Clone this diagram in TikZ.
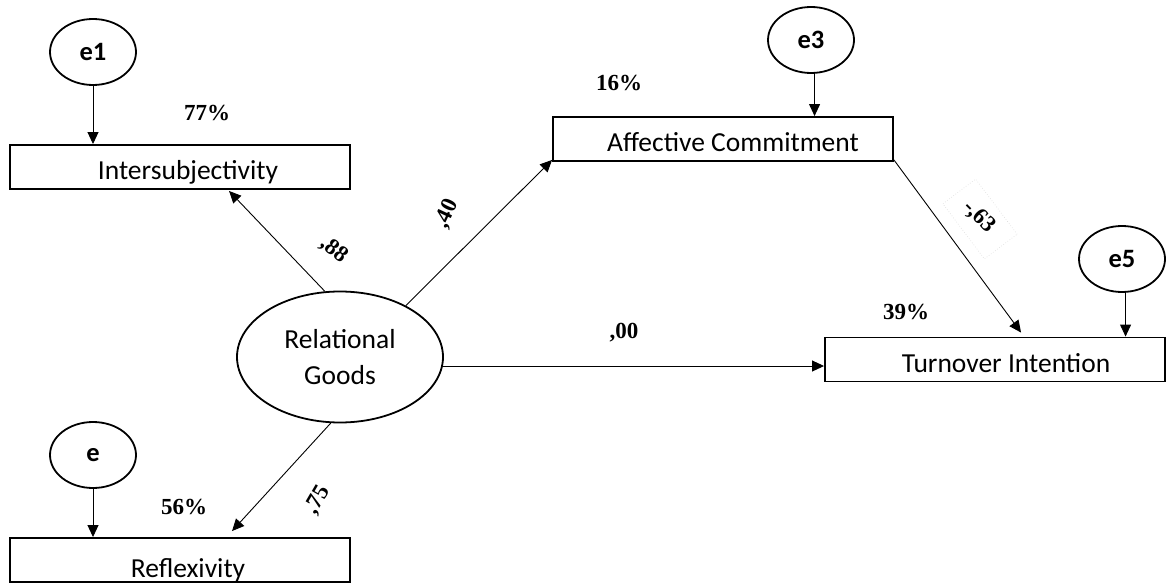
\documentclass[tikz,border=0pt]{standalone}
\usepackage{fontspec}
\usetikzlibrary{shapes.geometric,arrows.meta}
\newfontfamily\carlito{Carlito}
\newfontfamily\tnr{Liberation Serif}
\newcommand\boxfont{\carlito\fontsize{27.5}{36}\selectfont}
\newcommand\errfont{\carlito\bfseries\fontsize{26.5}{28}\selectfont}
\newcommand\numfont{\tnr\bfseries\fontsize{23}{25}\selectfont}
\tikzset{
  lat/.style={ellipse, draw, line width=1.8pt, minimum width=86pt, minimum height=66pt, inner sep=0pt, font=\errfont},
  obs/.style={draw, line width=1.9pt, minimum width=340pt, minimum height=44pt, inner sep=0pt},
  boxtext/.style={anchor=base, font=\boxfont, inner sep=0pt},
  pct/.style={font=\numfont, inner sep=0pt},
  coef/.style={font=\numfont, inner sep=0pt, anchor=center},
  faintbox/.style={draw=gray!30, dotted, line width=0.6pt, minimum width=69pt, minimum height=41pt},
  arr/.style={-{Triangle[length=12pt,width=11pt]}, line width=0.9pt},
}
\begin{document}
\begin{tikzpicture}[x=1pt, y=-1pt]
\useasboundingbox (0,0) rectangle (1166,585);
\clip (0,0) rectangle (1166,585);

% observed boxes
\node[obs] (inter) at (180,167) {};
\node[boxtext] (intert) at (188,180) {Intersubjectivity};
\node[obs] (aff) at (723,139) {};
\node[boxtext] (afft) at (733,152) {Affective Commitment};
\node[obs] (turn) at (995,359.5) {};
\node[boxtext] (turnt) at (1006,372) {Turnover Intention};
\node[obs] (refl) at (180,560) {};
\node[boxtext] (reflt) at (188,577) {Reflexivity};

% latent
\node[ellipse, draw, line width=1.8pt, minimum width=206pt, minimum height=131pt, inner sep=0pt, align=center, font=\boxfont] (rg) at (340,357) {Relational\\Goods};

% errors
\node[lat] (e1) at (93,52) {e1};
\node[lat] (e3) at (811,40) {e3};
\node[lat] (e5) at (1122,259) {e5};
\node[lat] (e) at (93,455) {e};

\draw[arr] (e1.south) -- (e1.south |- inter.north);
\draw[arr] (e3.-84) -- (e3.-84 |- aff.north);
\draw[arr] (e5.-84) -- (e5.-84 |- turn.north);
\draw[arr] (e.south) -- (e.south |- refl.north);

% structural paths
\draw[arr] (rg.103) -- ([xshift=220pt, yshift=-1pt]inter.south west);
\draw[arr] (rg.38) -- ([yshift=2pt]aff.south west);
\draw[arr] (rg.262) -- ([xshift=223pt, yshift=6pt]refl.north west);
\draw[arr] (rg.-5) -- (rg.-5 -| turn.west);
\draw[arr] ([yshift=2pt]aff.south east) -- ([xshift=197pt, yshift=4pt]turn.north west);

% percentages
\node[pct] (p77) at (207,113) {77\%};
\node[pct] (p16) at (619,83) {16\%};
\node[pct] (p39) at (906,312) {39\%};
\node[pct] (p56) at (184,507) {56\%};

% coefficients
\node[coef, rotate=-38] (c88) at (334,250) {,88};
\node[coef, rotate=65] (c40) at (447,214) {,40};
\node[coef, rotate=60] (c75) at (318,500) {,75};
\node[font=\numfont, inner sep=0pt, anchor=base] (c00) at (624,338) {,00};
\node[faintbox, rotate=-53] (c63box) at (980,219) {};
\node[coef, rotate=-45] (c63) at (979,217) {-,63};
\end{tikzpicture}
\end{document}
